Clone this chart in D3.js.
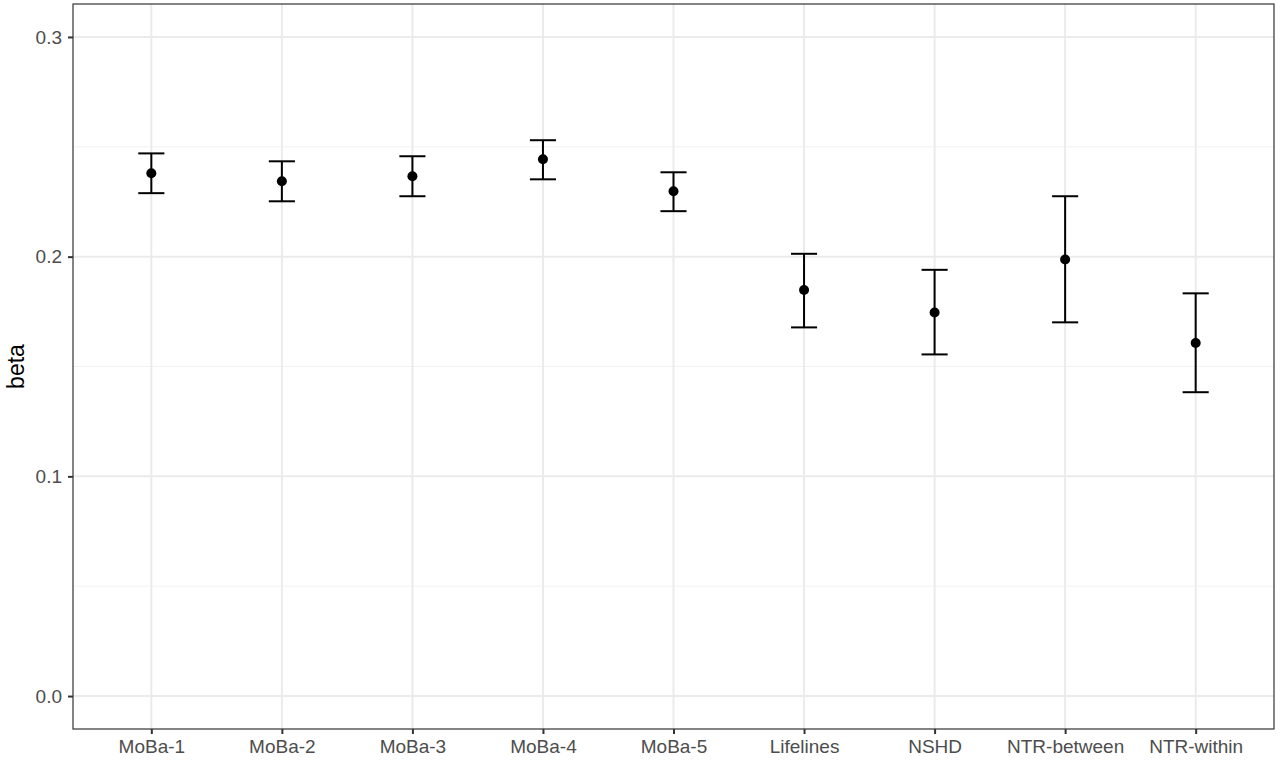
<!DOCTYPE html>
<html>
<head>
<meta charset="utf-8">
<script src="https://cdn.jsdelivr.net/npm/d3@7"></script>
<style>
  body { margin: 0; background: #fff; }
  svg { display: block; font-family: "Liberation Sans", Arial, sans-serif; }
</style>
</head>
<body>
<svg id="chart" width="1280" height="763"></svg>
<script>
// data
let cohorts = ["MoBa-1", "MoBa-2", "MoBa-3", "MoBa-4", "MoBa-5", "Lifelines", "NSHD", "NTR-between", "NTR-within"]
let beta  = [0.2380, 0.2343, 0.2366, 0.2443, 0.2298, 0.1848, 0.1746, 0.1987, 0.1607]
let upper = [0.2470, 0.2434, 0.2457, 0.2530, 0.2384, 0.2013, 0.1940, 0.2275, 0.1833]
let lower = [0.2289, 0.2252, 0.2275, 0.2352, 0.2207, 0.1678, 0.1555, 0.1701, 0.1383]
let yTicks = [0.0, 0.1, 0.2, 0.3]
let yMinor = [0.05, 0.15, 0.25]

let margin = {left: 73, right: 6, top: 4, bottom: 34}
let W = 1280, H = 763
let pw = W - margin.left - margin.right
let ph = H - margin.top - margin.bottom

let svg = d3.select("#chart")
let g = svg.append("g").attr("transform", "translate(" + margin.left + "," + margin.top + ")")

// ggplot style discrete expansion: 0.6 of a step each side
let step = pw / (cohorts.length - 1 + 1.2)
let x = d3.scalePoint().domain(cohorts).range([0.6 * step, pw - 0.6 * step])

// continuous expansion 5% on 0..0.3
let y = d3.scaleLinear().domain([-0.015, 0.315]).range([ph, 0])

// grid
g.selectAll(".minor").data(yMinor).enter().append("line")
  .attr("x1", 0).attr("x2", pw)
  .attr("y1", d => y(d)).attr("y2", d => y(d))
  .attr("stroke", "#f2f2f2").attr("stroke-width", 1)

g.selectAll(".major").data(yTicks).enter().append("line")
  .attr("x1", 0).attr("x2", pw)
  .attr("y1", d => y(d)).attr("y2", d => y(d))
  .attr("stroke", "#ebebeb").attr("stroke-width", 2)

g.selectAll(".vgrid").data(cohorts).enter().append("line")
  .attr("x1", d => x(d)).attr("x2", d => x(d))
  .attr("y1", 0).attr("y2", ph)
  .attr("stroke", "#ebebeb").attr("stroke-width", 2)

// error bars
let capW = step * 0.2
let bars = g.selectAll(".err").data(cohorts).enter().append("g")
bars.append("line")
  .attr("x1", d => x(d)).attr("x2", d => x(d))
  .attr("y1", (d, i) => y(upper[i])).attr("y2", (d, i) => y(lower[i]))
  .attr("stroke", "black").attr("stroke-width", 2)
bars.append("line")
  .attr("x1", d => x(d) - capW / 2).attr("x2", d => x(d) + capW / 2)
  .attr("y1", (d, i) => y(upper[i])).attr("y2", (d, i) => y(upper[i]))
  .attr("stroke", "black").attr("stroke-width", 2)
bars.append("line")
  .attr("x1", d => x(d) - capW / 2).attr("x2", d => x(d) + capW / 2)
  .attr("y1", (d, i) => y(lower[i])).attr("y2", (d, i) => y(lower[i]))
  .attr("stroke", "black").attr("stroke-width", 2)

g.selectAll(".pt").data(cohorts).enter().append("circle")
  .attr("cx", d => x(d)).attr("cy", (d, i) => y(beta[i]))
  .attr("r", 5).attr("fill", "black")

// panel border
g.append("rect").attr("width", pw).attr("height", ph)
  .attr("fill", "none").attr("stroke", "#333333").attr("stroke-width", 1.2)

// axes
let yAxis = g.append("g")
  .call(d3.axisLeft(y).tickValues(yTicks).tickFormat(d3.format(".1f")).tickSize(5).tickPadding(6))
let xAxis = g.append("g").attr("transform", "translate(0," + ph + ")")
  .call(d3.axisBottom(x).tickSize(5).tickPadding(6))

for (let ax of [yAxis, xAxis]) {
  ax.select(".domain").remove()
  ax.selectAll(".tick line").attr("stroke", "#333333").attr("stroke-width", 2)
  ax.selectAll(".tick text").attr("fill", "#4d4d4d")
    .style("font-size", "19px").style("font-family", "Liberation Sans, Arial, sans-serif")
}

// y title
svg.append("text")
  .attr("transform", "translate(24," + (margin.top + ph / 2) + ") rotate(-90)")
  .attr("text-anchor", "middle")
  .style("font-size", "23px")
  .attr("fill", "black")
  .text("beta")
</script>
</body>
</html>
